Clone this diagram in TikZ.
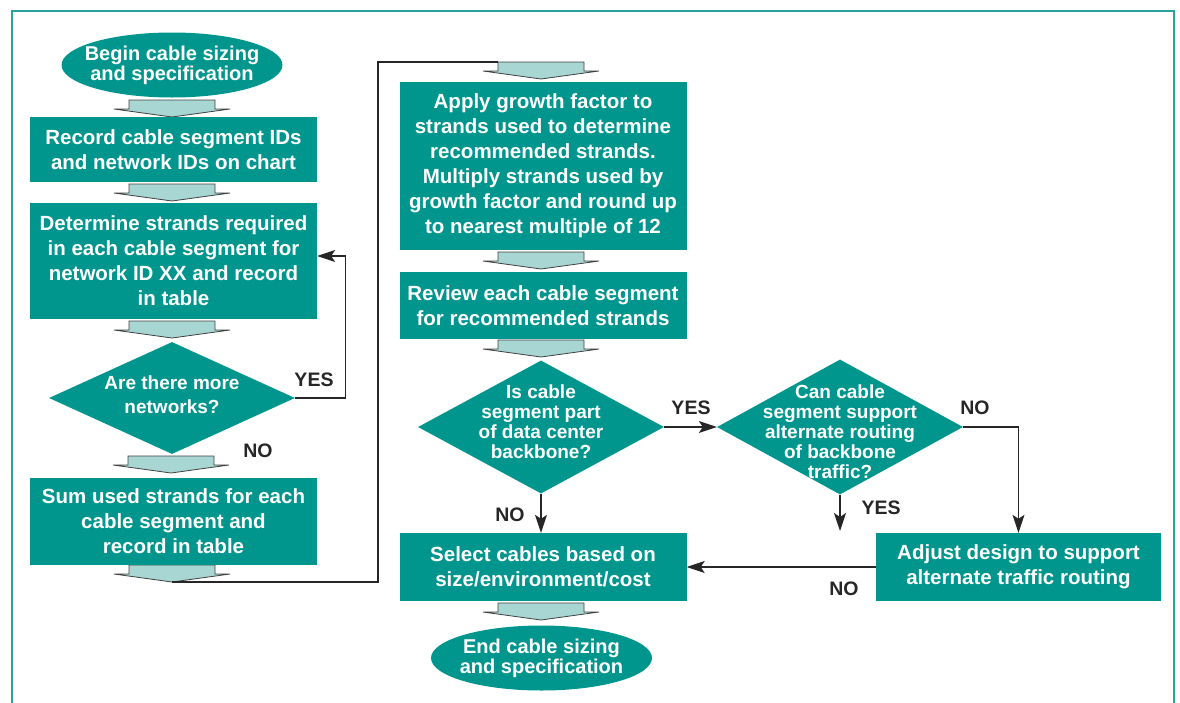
\documentclass[tikz,border=0pt]{standalone}
\usepackage{fontspec}
\setmainfont{Liberation Sans}
\usetikzlibrary{shapes.geometric,arrows.meta}
\definecolor{flowteal}{RGB}{0,150,142}
\definecolor{arrowfill}{RGB}{168,214,211}
\definecolor{frameteal}{RGB}{40,165,155}
\tikzset{
  process/.style={rectangle, fill=flowteal, text=white, font=\bfseries\fontsize{20.5}{25}\selectfont,
    align=center, inner sep=0pt, minimum width=287pt},
  terminal/.style={ellipse, fill=flowteal, text=white, font=\bfseries\fontsize{20}{20}\selectfont,
    align=center, inner sep=-10pt, minimum width=221pt, minimum height=65pt},
  decision/.style={diamond, fill=flowteal, inner sep=0pt},
  dtext/.style={text=white, font=\bfseries\fontsize{19}{20}\selectfont, align=center},
  flow/.style={draw=black!85, line width=1.1pt, -{Stealth[length=18pt,width=12pt,inset=4pt]}},
  link/.style={draw=black!85, line width=1.1pt},
  blockarrow/.style={fill=arrowfill, draw=black!75, line width=0.8pt},
  answer/.style={text=black!85, font=\bfseries\fontsize{19.5}{20}\selectfont}
}
\begin{document}
\begin{tikzpicture}[x=1pt,y=-1pt]
    \useasboundingbox (0,0) rectangle (1180,702);
    \draw[frameteal, line width=2pt] (12,720) -- (12,11) -- (1174,11) -- (1174,720);

    % block arrows between the steps
    \foreach \n/\x/\y in {a1/172/100, a2/172/184, a3/172/321, a4/171/456, a5/172/565,
                          a6/541/62, a7/541/252, a8/541/340, a9/541/603}{
        \coordinate (\n) at (\x,\y);
        \coordinate (\n-tip) at (\x,{\y+17});
        \draw[blockarrow] ({\x-43},\y) -- ({\x+43},\y) -- ({\x+43},{\y+9}) -- ({\x+58},{\y+9})
            -- (\x,{\y+17}) -- ({\x-58},{\y+9}) -- ({\x-43},{\y+9}) -- cycle;
    }

    % left column
    \node[terminal] (begin) at (172,65) {Begin cable sizing\\and specification};
    \node[process, minimum height=65pt] (record) at (173.5,149.5) {Record cable segment IDs\\and network IDs on chart};
    \node[process, minimum height=116pt] (strands) at (173.5,261) {Determine strands required\\in each cable segment for\\network ID XX and record\\in table};
    \node[decision, minimum width=246pt, minimum height=112pt,
          label={[dtext, font=\bfseries\fontsize{19}{24}\selectfont, yshift=3pt]center:{Are there more\\networks?}}] (more) at (172,398) {};
    \node[process, minimum height=87pt] (sum) at (173.5,521.5) {Sum used strands for each\\cable segment and\\record in table};

    % right part
    \node[process, minimum height=168pt] (growth) at (543,166) {Apply growth factor to\\strands used to determine\\recommended strands.\\Multiply strands used by\\growth factor and round up\\to nearest multiple of 12};
    \node[process, minimum height=67pt] (review) at (543,305.5) {Review each cable segment\\for recommended strands};
    \node[decision, minimum width=246pt, minimum height=133pt,
          label={[dtext, yshift=5pt]center:{Is cable\\segment part\\of data center\\backbone?}}] (backbone) at (541,427) {};
    \node[decision, minimum width=246pt, minimum height=135pt,
          label={[dtext, yshift=-5pt]center:{Can cable\\segment support\\alternate routing\\of backbone\\traffic?}}] (support) at (840,427) {};
    \node[process, minimum height=68pt] (select) at (543,567) {Select cables based on\\size/environment/cost};
    \node[process, minimum width=285pt, minimum height=68pt] (adjust) at (1018.5,567) {Adjust design to support\\alternate traffic routing};
    \node[terminal] (end) at (541.5,658) {End cable sizing\\and specification};
    \coordinate (supportend) at (840,531);

    % connectors
    \draw[flow] (more.east) -- ++(50,0) |- ([yshift=5pt]strands.east);
    \draw[link] (a5-tip) -| (378,62) -- ([xshift=-43pt]a6);
    \draw[flow] (backbone.east) -- (support.west);
    \draw[flow] (backbone.south) -- (backbone.south |- select.north);
    \draw[flow] (support.south) -- (supportend);
    \draw[flow] (support.east) -| (adjust.north);
    \draw[flow] (adjust.west) -- (select.east);

    \node[answer] (yesmore) at (314,380) {YES};
    \node[answer] (nomore) at (258,451) {NO};
    \node[answer] (yesbackbone) at (691,408) {YES};
    \node[answer] (nobackbone) at (510,515) {NO};
    \node[answer] (nosupport) at (975,408) {NO};
    \node[answer] (yessupport) at (881,508) {YES};
    \node[answer] (noadjust) at (844,589) {NO};
\end{tikzpicture}
\end{document}
